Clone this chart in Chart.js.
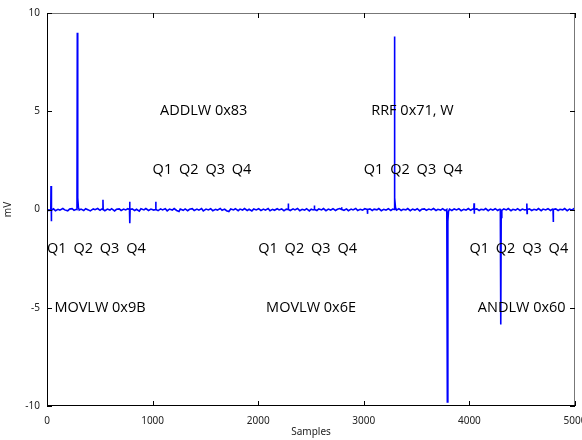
<!DOCTYPE html>
<html lang="en">
<head>
  <meta charset="UTF-8">
  <title>mV vs Samples</title>
  <script src="https://cdn.jsdelivr.net/npm/chart.js"></script>
  <style>
    html, body { margin: 0; padding: 0; background: #fff; }
    #wrap { width: 582px; height: 440px; }
  </style>
</head>
<body>
  <div id="wrap"><canvas id="sig" width="582" height="440"></canvas></div>

  <script>
    // signal: [sample, mV]
    const signal = [
      [0,0.02],[18,-0.05],[36,0],[38,1.2],[40,0.1],[42,-0.6],[44,-0.05],[62,0.03],[80,-0.06],[104,0.01],
      [122,-0.03],[150,0.05],[168,-0.02],[196,-0.07],[214,0.02],[238,0.04],[256,-0.04],[278,0.01],[284,0],[287,9.0],
      [291,0.6],[297,0.12],[305,-0.03],[322,0.02],[348,-0.05],[366,0.04],[392,-0.02],[410,-0.07],[438,0.03],[455,-0.01],
      [480,0.05],[502,-0.04],[516,0.02],[528,0],[530,0.5],[532,0],[548,-0.06],[572,0.02],[596,-0.03],[612,0.04],
      [640,-0.07],[658,0.01],[684,0.03],[702,-0.05],[726,0.02],[744,-0.02],[766,0.04],[781,0],[783,0.4],[785,-0.7],
      [787,0],[806,0.03],[830,-0.05],[848,0.01],[874,-0.08],[890,0.04],[918,-0.02],[936,0.05],[962,-0.05],[984,0.02],
      [1010,-0.03],[1028,0],[1030,0.4],[1032,0],[1052,-0.06],[1076,0.03],[1094,-0.02],[1120,0.04],[1138,-0.07],[1160,0.02],
      [1186,-0.03],[1204,0.05],[1228,-0.05],[1250,-0.1],[1262,0.02],[1290,-0.04],[1308,0.03],[1332,-0.06],[1350,0.01],[1376,0.04],
      [1394,-0.05],[1420,0.02],[1438,-0.03],[1464,0.05],[1480,-0.07],[1506,0.02],[1528,-0.02],[1550,0.04],[1570,-0.06],[1596,0.01],
      [1614,-0.03],[1640,0.05],[1658,-0.04],[1682,0.02],[1700,-0.06],[1722,-0.1],[1740,0.03],[1766,-0.02],[1784,0.04],[1810,-0.06],
      [1828,0.02],[1852,-0.03],[1870,0.05],[1896,-0.05],[1914,0.01],[1940,-0.07],[1958,0.03],[1982,-0.02],[2004,0.04],[2026,-0.05],
      [2050,0.02],[2068,-0.03],[2094,0.05],[2112,-0.06],[2136,0.01],[2154,-0.04],[2180,0.04],[2198,-0.02],[2222,0.03],[2244,-0.06],
      [2266,0.02],[2283,0],[2285,0.3],[2287,0],[2304,-0.05],[2330,0.03],[2348,-0.02],[2372,0.05],[2394,-0.06],[2416,0.01],
      [2440,-0.03],[2458,0.04],[2484,-0.07],[2502,0.02],[2520,-0.02],[2530,0],[2532,0.2],[2534,0],[2556,-0.05],[2574,0.03],
      [2600,-0.02],[2618,0.05],[2642,-0.06],[2664,0.02],[2686,-0.03],[2708,0.04],[2732,-0.05],[2750,0.01],[2772,0.05],[2788,0],
      [2790,0.12],[2792,0],[2812,-0.04],[2836,0.03],[2854,-0.06],[2880,0.02],[2898,-0.02],[2924,0.05],[2942,-0.05],[2966,0.01],
      [2988,-0.03],[3010,0.04],[3033,0],[3035,-0.22],[3037,0],[3058,0.03],[3080,-0.05],[3098,0.02],[3124,-0.02],[3142,0.05],
      [3166,-0.06],[3188,0.01],[3210,-0.03],[3232,0.04],[3256,-0.05],[3274,0.02],[3286,0],[3290,8.8],[3294,0.6],[3300,0.1],
      [3310,-0.03],[3332,0.04],[3354,-0.05],[3372,0.01],[3398,-0.02],[3416,0.05],[3440,-0.06],[3462,0.02],[3484,-0.03],[3506,0.04],
      [3530,-0.07],[3548,0.01],[3574,0.03],[3592,-0.04],[3616,0.02],[3638,-0.02],[3660,0.05],[3684,-0.05],[3702,0.01],[3728,-0.03],
      [3746,0.04],[3770,-0.05],[3786,0],[3791,-9.8],[3796,-0.6],[3802,-0.1],[3812,0.02],[3834,-0.05],[3856,0.03],[3878,-0.02],
      [3900,0.04],[3922,-0.06],[3946,0.01],[3968,-0.03],[3990,0.05],[4012,-0.04],[4030,0.02],[4042,0],[4044,0.32],[4046,-0.22],
      [4048,0],[4070,0.03],[4092,-0.05],[4110,0.01],[4136,-0.02],[4154,0.05],[4178,-0.06],[4200,0.02],[4222,-0.03],[4244,0.04],
      [4268,-0.05],[4284,0.01],[4293,0],[4297,-5.85],[4301,-0.4],[4307,-0.05],[4326,0.03],[4350,-0.02],[4368,0.05],[4394,-0.06],
      [4412,0.01],[4438,-0.03],[4456,0.04],[4480,-0.05],[4502,0.02],[4524,-0.02],[4542,0],[4544,0.3],[4546,-0.2],[4548,0],
      [4568,0.03],[4590,-0.05],[4612,0.01],[4636,-0.03],[4654,0.05],[4680,-0.06],[4698,0.02],[4722,-0.02],[4744,0.04],[4768,-0.05],
      [4786,0.02],[4792,0],[4794,-0.64],[4796,0],[4818,0.03],[4840,-0.05],[4858,0.01],[4884,-0.02],[4902,0.05],[4926,-0.06],
      [4948,0.02],[4970,-0.03],[4988,0.04],[5000,0.01]
    ];

    const xTicks = [0, 1000, 2000, 3000, 4000, 5000];
    const yTicks = [-10, -5, 0, 5, 10];

    // instruction labels: text, sample, mV
    const instrText = ['ADDLW 0x83', 'RRF 0x71, W', 'MOVLW 0x9B', 'MOVLW 0x6E', 'ANDLW 0x60'];
    const instrX = [1070, 3070, 70, 2075, 4080];
    const instrY = [5, 5, -5, -5, -5];

    // quarter groups: start sample, mV
    const quarters = ['Q1', 'Q2', 'Q3', 'Q4'];
    const qStartX = [1000, 3000, 0, 2000, 4000];
    const qY = [2, 2, -2, -2, -2];
    const qStep = 250;

    const annotations = {
      id: 'annotations',
      afterDatasetsDraw(chart) {
        const c = chart.ctx, xs = chart.scales.x, ys = chart.scales.y;
        c.save();
        c.fillStyle = '#000';
        c.font = '14.5px "Open Sans"';
        c.textAlign = 'left';
        c.textBaseline = 'middle';
        instrText.forEach((t, i) => {
          c.fillText(t, xs.getPixelForValue(instrX[i]), ys.getPixelForValue(instrY[i]));
        });
        qStartX.forEach((x0, g) => {
          quarters.forEach((q, k) => {
            c.fillText(q, xs.getPixelForValue(x0 + k * qStep), ys.getPixelForValue(qY[g]));
          });
        });
        c.restore();
      }
    };

    // frame and inward ticks
    const frame = {
      id: 'frame',
      afterDraw(chart) {
        const c = chart.ctx, a = chart.chartArea, xs = chart.scales.x, ys = chart.scales.y;
        c.save();
        c.lineWidth = 1;
        c.strokeStyle = '#777';
        c.beginPath();
        c.moveTo(a.left, a.top + 0.5); c.lineTo(a.right, a.top + 0.5);
        c.moveTo(a.right - 0.5, a.top); c.lineTo(a.right - 0.5, a.bottom);
        c.stroke();
        c.strokeStyle = '#000';
        c.beginPath();
        c.moveTo(a.left + 0.5, a.top); c.lineTo(a.left + 0.5, a.bottom);
        c.moveTo(a.left, a.bottom - 0.5); c.lineTo(a.right, a.bottom - 0.5);
        const tl = 5;
        xTicks.forEach(v => {
          const p = Math.round(xs.getPixelForValue(v)) + 0.5;
          c.moveTo(p, a.bottom); c.lineTo(p, a.bottom - tl);
          c.moveTo(p, a.top); c.lineTo(p, a.top + tl);
        });
        yTicks.forEach(v => {
          const p = Math.round(ys.getPixelForValue(v)) + 0.5;
          c.moveTo(a.left, p); c.lineTo(a.left + tl, p);
          c.moveTo(a.right, p); c.lineTo(a.right - tl, p);
        });
        c.stroke();
        c.restore();
      }
    };

    const ctx = document.getElementById('sig').getContext('2d');
    const sigChart = new Chart(ctx, {
      type: 'line',
      data: {
        datasets: [{
          data: signal.map(p => ({ x: p[0], y: p[1] })),
          borderColor: '#0000ff',
          borderWidth: 1.6,
          pointRadius: 0,
          tension: 0,
          fill: false
        }]
      },
      options: {
        responsive: false,
        animation: false,
        events: [],
        layout: { padding: { top: 9, right: 7, left: 0, bottom: 0 } },
        plugins: { legend: { display: false }, tooltip: { enabled: false } },
        scales: {
          x: {
            type: 'linear',
            min: 0, max: 5000,
            afterBuildTicks: s => { s.ticks = xTicks.map(v => ({ value: v })); },
            afterFit: s => { s.height = 34; s.paddingLeft = 0; s.paddingRight = 0; },
            grid: { display: false, drawTicks: false },
            border: { display: false },
            ticks: { color: '#222', font: { family: 'Noto Sans', size: 10 }, padding: 9, maxRotation: 0, autoSkip: false,
                     callback: v => String(v) },
            title: { display: true, text: 'Samples', color: '#222', font: { family: 'Noto Sans', size: 10 }, padding: { top: 0, bottom: 2 } }
          },
          y: {
            type: 'linear',
            min: -10, max: 10,
            afterBuildTicks: s => { s.ticks = yTicks.map(v => ({ value: v })); },
            afterFit: s => { s.width = 47; },
            grid: { display: false, drawTicks: false },
            border: { display: false },
            ticks: { color: '#222', font: { family: 'Noto Sans', size: 10 }, padding: 7, callback: v => String(v) },
            title: { display: true, text: 'mV', color: '#222', font: { family: 'Noto Sans', size: 10 }, padding: { top: 2, bottom: 0 } }
          }
        }
      },
      plugins: [annotations, frame]
    });
  </script>
</body>
</html>
